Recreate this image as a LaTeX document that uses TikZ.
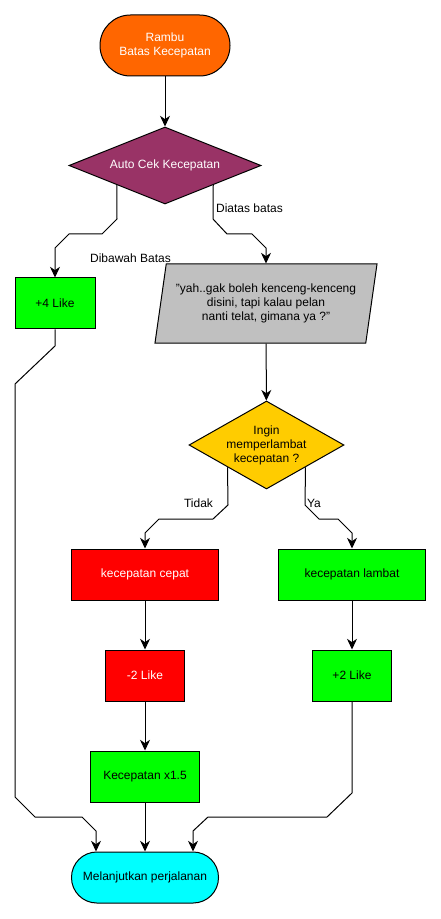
\documentclass[tikz,border=0pt]{standalone}
\usepackage{fontspec}
\setmainfont{Liberation Sans}
\usetikzlibrary{shapes.geometric,arrows.meta}
\definecolor{rambuorange}{HTML}{FF6600}
\definecolor{cekpurple}{HTML}{993366}
\definecolor{pesangray}{HTML}{C0C0C0}
\definecolor{pilihyellow}{HTML}{FFCC00}
\definecolor{likegreen}{HTML}{00FF00}
\definecolor{cepatred}{HTML}{FF0000}
\definecolor{lanjutcyan}{HTML}{00FFFF}

\begin{document}
\begin{tikzpicture}[x=0.75pt, y=-0.75pt, line width=0.75pt,
    font=\fontsize{9}{10.5}\selectfont,
    box/.style={draw, align=center, minimum height=38.25pt, inner sep=0pt},
    term/.style={draw, align=center, rounded corners=#1, inner sep=0pt},
    cond/.style={draw, diamond, align=center, inner sep=0pt},
    arr/.style={-{Stealth[length=8pt, width=7.5pt, inset=2.5pt]}},
    lbl/.style={inner sep=0pt}]
  \useasboundingbox (0,0) rectangle (441,919);

  \node[term=22.8pt, fill=rambuorange, text=white, minimum width=97.5pt, minimum height=45.75pt] (start) at (165,45.5) {Rambu\\Batas Kecepatan};
  \node[cond, fill=cekpurple, text=white, aspect=2.5, minimum width=144pt, minimum height=57.75pt] (cek) at (165,165.5) {Auto Cek Kecepatan};
  \node[box, fill=likegreen, minimum width=60pt] (plus4) at (55,303.5) {+4 Like};
  \node[draw, trapezium, trapezium left angle=74, trapezium right angle=106, trapezium stretches body,
        fill=pesangray, minimum width=166.5pt, minimum height=59.25pt, inner sep=0pt, align=center] (pesan) at (266,303.5)
        {\symbol{34}yah..gak boleh kenceng-kenceng\\disini, tapi kalau pelan\\nanti telat, gimana ya ?\symbol{34}};
  \node[cond, fill=pilihyellow, aspect=1.76, minimum width=116.25pt, minimum height=66pt] (pilih) at (266.5,445) {Ingin\\memperlambat\\kecepatan ?};
  \node[box, fill=cepatred, text=white, minimum width=110.25pt] (cepat) at (145,574.5) {kecepatan cepat};
  \node[box, fill=likegreen, minimum width=110.25pt] (lambat) at (352,574.5) {kecepatan lambat};
  \node[box, fill=cepatred, text=white, minimum width=59.25pt] (min2) at (145,675.5) {-2 Like};
  \node[box, fill=likegreen, minimum width=59.25pt] (plus2) at (352,675.5) {+2 Like};
  \node[box, fill=likegreen, minimum width=81.75pt] (kali) at (145,776.5) {Kecepatan x1.5};
  \node[term=19pt, fill=lanjutcyan, minimum width=110.25pt, minimum height=38.25pt] (lanjut) at (145,877.5) {Melanjutkan perjalanan};

  % labels on the branches
  \node[lbl] (lDiatas) at (249.5,208) {Diatas batas};
  \node[lbl] (lDibawah) at (130.5,258) {Dibawah Batas};
  \node[lbl] (lTidak) at (198.5,503) {Tidak};
  \node[lbl] (lYa) at (314,503) {Ya};

  \coordinate (inL) at (96,831);
  \coordinate (inR) at (193,831);

  \draw[arr] (start) -- (cek);
  \draw[arr] (cek.south west) -- (117,219) -- (102,234) -- (69,234) -- (55,248) -- (plus4);
  \draw[arr] (cek.south east) -- (213,219) -- (227,234) -- (252,234) -- (266,248) -- (pesan);
  \draw[arr] (pesan) -- (pilih);
  \draw[arr] (pilih.south west) -- (228,505) -- (213,519) -- (159,519) -- (145,533) -- (cepat);
  \draw[arr] (pilih.south east) -- (305,505) -- (319,519) -- (338,519) -- (352,533) -- (lambat);
  \draw[arr] (cepat) -- (min2);
  \draw[arr] (min2) -- (kali);
  \draw[arr] (kali) -- (lanjut);
  \draw[arr] (lambat) -- (plus2);
  \draw[arr] (plus4.south) -- (55,346) -- (15,384) -- (15,797) -- (35,817) -- (82,817) -- (inL) -- (inL |- lanjut.north);
  \draw[arr] (plus2.south) -- (352,793) -- (327,817) -- (208,817) -- (inR) -- (inR |- lanjut.north);
\end{tikzpicture}
\end{document}
